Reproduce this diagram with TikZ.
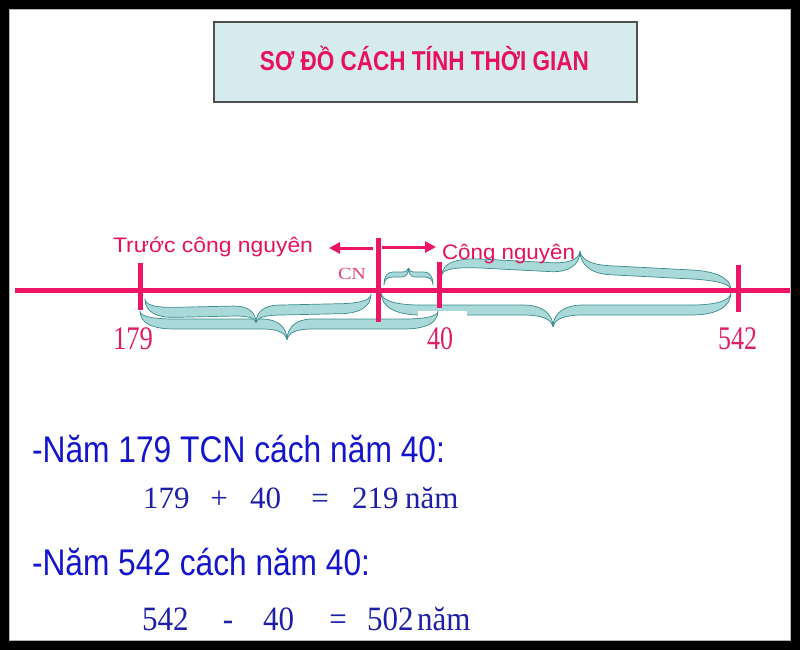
\documentclass[tikz,border=0pt]{standalone}
\usepackage{fontspec}
\setmainfont{Liberation Serif}
\newfontfamily\arialf{Liberation Sans}
\usetikzlibrary{arrows.meta}
\newcommand{\fitw}[3]{\scalebox{1}[#2]{\resizebox{#1}{\height}{#3}}}
\definecolor{tpink}{HTML}{E8115E}
\definecolor{lpink}{HTML}{EE1566}
\definecolor{cnpink}{HTML}{E0457F}
\definecolor{numpink}{HTML}{E01F6A}
\definecolor{tblue}{HTML}{1414CC}
\definecolor{sblue}{HTML}{1E1EA8}
\definecolor{boxfill}{HTML}{D5EBEE}
\definecolor{boxline}{HTML}{505050}
\definecolor{bracefill}{HTML}{A9D9D9}
\definecolor{braceline}{HTML}{3D8C8C}
\tikzset{
  txt/.style={inner sep=0pt, outer sep=0pt, anchor=base west},
  tickline/.style={draw=lpink, line width=5pt},
  axisline/.style={draw=lpink, line width=5pt},
  arrowline/.style={draw=lpink, line width=3pt, -{Triangle[length=11pt,width=11pt]}},
  ribbonstyle/.style={fill=bracefill, draw=braceline, line width=0.7pt, line join=round},
}
% ribbon brace in local coordinates: #1 length, #2 tip offset, #3 near-edge offset, #4 thickness, #5 tip position, #6 end hook width
\newcommand{\ribbonshape}[6]{%
 \pgfmathsetmacro\rbL{#1}\pgfmathsetmacro\rbA{#2}\pgfmathsetmacro\rbh{#3}%
 \pgfmathsetmacro\rbH{#3+#4}\pgfmathsetmacro\rbm{#5}\pgfmathsetmacro\rbe{#6}\pgfmathsetmacro\rbd{0.75*#6}%
 \filldraw[ribbonstyle] (0,0)
   .. controls (0,{0.7*\rbh}) and ({0.4*\rbe},\rbh) .. (\rbe,\rbh)
   -- ({\rbm-\rbd},\rbh)
   .. controls ({\rbm-0.35*\rbd},\rbh) and (\rbm,{\rbh+0.4*(\rbA-\rbh)}) .. (\rbm,\rbA)
   .. controls (\rbm,{\rbh+0.4*(\rbA-\rbh)}) and ({\rbm+0.35*\rbd},\rbh) .. ({\rbm+\rbd},\rbh)
   -- ({\rbL-\rbe},\rbh)
   .. controls ({\rbL-0.4*\rbe},\rbh) and (\rbL,{0.7*\rbh}) .. (\rbL,0)
   .. controls (\rbL,{0.7*\rbH}) and ({\rbL-0.4*\rbe},\rbH) .. ({\rbL-\rbe},\rbH)
   -- ({\rbm+\rbd},\rbH)
   .. controls ({\rbm+0.4*\rbd},\rbH) and ({\rbm+0.05*\rbd},{\rbH+0.3*(\rbA-\rbH)}) .. (\rbm,\rbA)
   .. controls ({\rbm-0.05*\rbd},{\rbH+0.3*(\rbA-\rbH)}) and ({\rbm-0.4*\rbd},\rbH) .. ({\rbm-\rbd},\rbH)
   -- (\rbe,\rbH)
   .. controls ({0.4*\rbe},\rbH) and (0,{0.7*\rbH}) .. (0,0) -- cycle;
}
\begin{document}
\begin{tikzpicture}[x=1pt,y=-1pt]
\useasboundingbox (0,0) rectangle (800,650);
\fill[black] (0,0) rectangle (800,650);
\draw[fill=white, draw=gray!60, line width=1pt] (9,10) rectangle (790,640);

% title
\node[draw=boxline, line width=1.2pt, fill=boxfill, minimum width=423pt, minimum height=80pt, inner sep=0pt] (titlebox) at (425.5,62) {};
\node[txt, anchor=base, text=tpink] (title) at (424.5,71) {\fitw{329pt}{1.03}{\arialf\bfseries\fontsize{26.5}{30}\selectfont SƠ ĐỒ CÁCH TÍNH THỜI GIAN}};

% coordinates
\coordinate (L0) at (15,290);
\coordinate (L1) at (790,290);
\coordinate (a179t) at (140,263); \coordinate (a179b) at (140,310);
\coordinate (cnT) at (378,238); \coordinate (cnB) at (378,322);
\coordinate (a40t) at (439,262); \coordinate (a40b) at (439,308);
\coordinate (a542t) at (738,265); \coordinate (a542b) at (738,312);
\coordinate (arrLs) at (373,248); \coordinate (arrLe) at (329,248);
\coordinate (arrRs) at (382,247); \coordinate (arrRe) at (436,247);

% braces (cm = shear so that the brace runs from its start to its end point)
\begin{scope}[cm={1,0,0,1,(381,292)}]
  \ribbonshape{350}{35}{13}{10}{172}{40}
\end{scope}
\fill[white] (418,311) rectangle (467,320);
\begin{scope}[cm={1,0,0,1,(140,311)}]
  \ribbonshape{298}{29}{8}{10}{147}{34}
\end{scope}
\begin{scope}[cm={1,0.022,0,1,(145,299)}]
  \ribbonshape{226}{26}{9}{10}{111}{30}
\end{scope}
\begin{scope}[cm={1,0,0,1,(384,285)}]
  \ribbonshape{49}{-17}{-8}{-5}{24.5}{9}
\end{scope}
\begin{scope}[cm={1,-0.052,0,1,(442,275)}]
  \ribbonshape{289}{-31}{-9}{-9}{138}{40}
\end{scope}

% axis and ticks
\draw[axisline] (L0) -- (L1);
\draw[tickline] (a179t) -- (a179b);
\draw[tickline] (cnT) -- (cnB);
\draw[tickline] (a40t) -- (a40b);
\draw[tickline] (a542t) -- (a542b);
\draw[arrowline] (arrLs) -- (arrLe);
\draw[arrowline] (arrRs) -- (arrRe);

% labels
\node[txt, text=tpink] (tcn) at (113,252) {\fitw{200pt}{1.05}{\arialf\fontsize{20}{24}\selectfont Trước công nguyên}};
\node[txt, text=tpink] (cng) at (442,259) {\fitw{133pt}{1.05}{\arialf\fontsize{20}{24}\selectfont Công nguyên}};
\node[txt, text=cnpink] (cn) at (338,279) {\fitw{28pt}{1}{\fontsize{17}{20}\selectfont CN}};
\node[txt, text=numpink] (n179) at (113,349) {\fitw{40pt}{1.03}{\fontsize{32}{36}\selectfont 179}};
\node[txt, text=numpink] (n40) at (427,349) {\fitw{26pt}{1.03}{\fontsize{32}{36}\selectfont 40}};
\node[txt, text=numpink] (n542) at (718,349) {\fitw{39pt}{1.03}{\fontsize{32}{36}\selectfont 542}};

% bottom text
\node[txt, text=tblue] (line1) at (32,462) {\fitw{413pt}{1.06}{\arialf\fontsize{35}{40}\selectfont -Năm 179 TCN cách năm 40:}};
\node[txt, text=tblue] (line3) at (32,575) {\fitw{338pt}{1.06}{\arialf\fontsize{35}{40}\selectfont -Năm 542 cách năm 40:}};

\begin{scope}[every node/.style={txt, text=sblue, font=\fontsize{31}{36}\selectfont}]
\node (e1a) at (143,508) {179};
\node[anchor=base] (e1b) at (219,508) {+};
\node (e1c) at (250,508) {40};
\node[anchor=base] (e1d) at (320,508) {=};
\node (e1e) at (352,508) {219};
\node (e1f) at (405,508) {năm};
\end{scope}
\begin{scope}[every node/.style={txt, text=sblue, font=\fontsize{31}{36}\selectfont}]
\node (e2a) at (142,630) {\scalebox{1}[1.1]{542}};
\node[anchor=base] (e2b) at (228,630) {\scalebox{1}[1.1]{-}};
\node (e2c) at (263,630) {\scalebox{1}[1.1]{40}};
\node[anchor=base] (e2d) at (338,630) {\scalebox{1}[1.1]{=}};
\node (e2e) at (367,630) {\scalebox{1}[1.1]{502}};
\node (e2f) at (417,630) {\scalebox{1}[1.1]{năm}};
\end{scope}
\end{tikzpicture}
\end{document}
